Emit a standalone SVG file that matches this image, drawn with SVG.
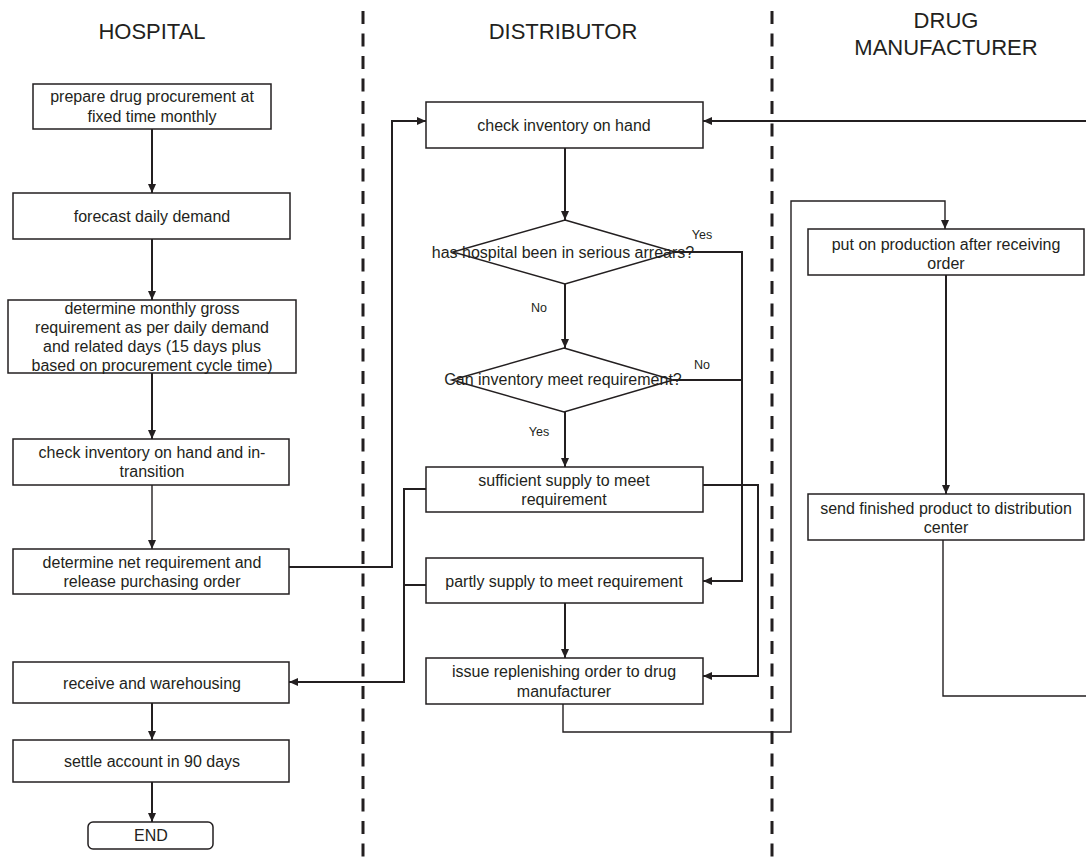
<svg xmlns="http://www.w3.org/2000/svg" width="1086" height="859" viewBox="0 0 1086 859">
<style>
text{font-family:"Liberation Sans",Arial,sans-serif;fill:#231f20;text-anchor:middle}
.t{font-size:16px}
.h{font-size:22px}
.l{font-size:12.5px}
.box{fill:#fff;stroke:#231f20;stroke-width:1.5}
.c{fill:none;stroke:#231f20;stroke-width:2}
.thin{fill:none;stroke:#231f20;stroke-width:1.4}
.lane{stroke:#231f20;stroke-width:3;stroke-dasharray:13 9.5}
</style>
<defs>
<marker id="ah" markerWidth="10" markerHeight="10" refX="9" refY="5" orient="auto" markerUnits="userSpaceOnUse" viewBox="0 0 10 10">
<path d="M0,1 L9,5 L0,9 Z" fill="#231f20"/>
</marker>
</defs>
<rect width="1086" height="859" fill="#fff"/>
<g id="lanes">
<line class="lane" x1="363" y1="11" x2="363" y2="859"/>
<line class="lane" x1="772" y1="11" x2="772" y2="859"/>
<text class="h" x="152" y="39">HOSPITAL</text>
<text class="h" x="563" y="39">DISTRIBUTOR</text>
<text class="h" x="946" y="28">DRUG</text>
<text class="h" x="946" y="55">MANUFACTURER</text>
</g>
<g id="connectors">
<path class="c" d="M152,129 V193" marker-end="url(#ah)"/>
<path class="c" d="M152,239 V300" marker-end="url(#ah)"/>
<path class="c" d="M152,373 V439" marker-end="url(#ah)"/>
<path class="thin" d="M152,485 V549" marker-end="url(#ah)"/>
<path class="c" d="M289,567 H392 V121 H426" marker-end="url(#ah)"/>
<path class="c" d="M1086,121 H703" marker-end="url(#ah)"/>
<path class="c" d="M565,148 V220" marker-end="url(#ah)"/>
<path class="c" d="M565,284 V348" marker-end="url(#ah)"/>
<path class="c" d="M675,252 H742 V581 H703" marker-end="url(#ah)"/>
<path class="c" d="M673,380 H742"/>
<path class="c" d="M565,412 V467" marker-end="url(#ah)"/>
<path class="c" d="M700,485 H758 V676 H703" marker-end="url(#ah)"/>
<path class="c" d="M426,489 H404 V682 H289" marker-end="url(#ah)"/>
<path class="c" d="M426,585 H404"/>
<path class="c" d="M565,603 V658" marker-end="url(#ah)"/>
<path class="thin" d="M563,704 V732 H791 V201 H945 V229" marker-end="url(#ah)"/>
<path class="c" d="M946,275 V494" marker-end="url(#ah)"/>
<path class="thin" d="M943,535 V696 H1086"/>
<path class="c" d="M152,703 V740" marker-end="url(#ah)"/>
<path class="c" d="M152,782 V822" marker-end="url(#ah)"/>
</g>
<g id="h1"><rect class="box" x="33" y="84" width="238" height="45"/>
<text class="t" x="152" y="102">prepare drug procurement at</text>
<text class="t" x="152" y="122">fixed time monthly</text></g>
<g id="h2"><rect class="box" x="13" y="193" width="277" height="46"/>
<text class="t" x="152" y="222">forecast daily demand</text></g>
<g id="h3"><rect class="box" x="8" y="300" width="288" height="73"/>
<text class="t" x="152" y="314">determine monthly gross</text>
<text class="t" x="152" y="333">requirement as per daily demand</text>
<text class="t" x="152" y="352">and related days (15 days plus</text>
<text class="t" x="152" y="371">based on procurement cycle time)</text></g>
<g id="h4"><rect class="box" x="13" y="439" width="276" height="46"/>
<text class="t" x="152" y="458">check inventory on hand and in-</text>
<text class="t" x="152" y="477">transition</text></g>
<g id="h5"><rect class="box" x="13" y="549" width="276" height="45"/>
<text class="t" x="152" y="568">determine net requirement and</text>
<text class="t" x="152" y="587">release purchasing order</text></g>
<g id="h6"><rect class="box" x="13" y="662" width="276" height="41"/>
<text class="t" x="152" y="689">receive and warehousing</text></g>
<g id="h7"><rect class="box" x="13" y="740" width="276" height="42"/>
<text class="t" x="152" y="767">settle account in 90 days</text></g>
<g id="end"><rect class="box" x="88" y="822" width="125" height="27" rx="5"/>
<text class="t" x="151" y="841">END</text></g>
<g id="d1"><rect class="box" x="426" y="102" width="277" height="46"/>
<text class="t" x="564" y="131">check inventory on hand</text></g>
<g id="d2"><path class="box" d="M565,220 L675,252 L565,284 L453,252 Z"/>
<text class="t" x="563" y="258">has hospital been in serious arrears?</text></g>
<g id="d3"><path class="box" d="M564,348 L673,380 L564,412 L452,380 Z"/>
<text class="t" x="563" y="385">Can inventory meet requirement?</text></g>
<g id="d4"><rect class="box" x="426" y="467" width="277" height="45"/>
<text class="t" x="564" y="486">sufficient supply to meet</text>
<text class="t" x="564" y="505">requirement</text></g>
<g id="d5"><rect class="box" x="426" y="558" width="277" height="45"/>
<text class="t" x="564" y="587">partly supply to meet requirement</text></g>
<g id="d6"><rect class="box" x="426" y="658" width="277" height="46"/>
<text class="t" x="564" y="677">issue replenishing order to drug</text>
<text class="t" x="564" y="697">manufacturer</text></g>
<g id="m1"><rect class="box" x="808" y="229" width="276" height="46"/>
<text class="t" x="946" y="250">put on production after receiving</text>
<text class="t" x="946" y="269">order</text></g>
<g id="m2"><rect class="box" x="808" y="494" width="276" height="46"/>
<text class="t" x="946" y="514">send finished product to distribution</text>
<text class="t" x="946" y="533">center</text></g>
<g id="labels">
<text class="l" x="702" y="239">Yes</text>
<text class="l" x="539" y="312">No</text>
<text class="l" x="702" y="369">No</text>
<text class="l" x="539" y="436">Yes</text>
</g>
</svg>
